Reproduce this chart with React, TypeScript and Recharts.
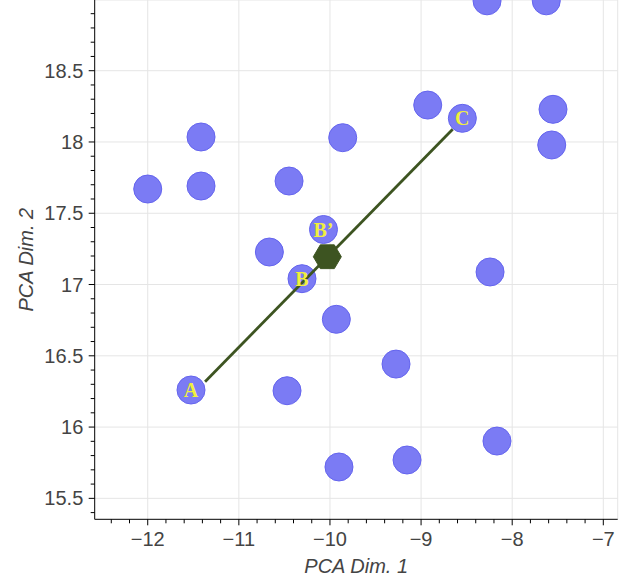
import React from 'react';
import {
  ScatterChart,
  Scatter,
  XAxis,
  YAxis,
  ReferenceLine,
  LabelList,
  Label,
} from 'recharts';

// ---- data ----
const POINT_X = [
  -12.0, -11.415, -11.415, -11.525, -10.665, -10.449, -10.471, -10.307, -10.071,
  -9.86, -9.93, -9.901, -9.275, -9.154, -8.927, -8.547, -8.276, -7.626, -8.243,
  -7.552, -7.566, -8.167,
];
const POINT_Y = [
  17.67, 18.035, 17.691, 16.26, 17.228, 17.726, 16.255, 17.041, 17.386,
  18.03, 16.756, 15.72, 16.442, 15.769, 18.259, 18.166, 18.99, 18.99, 17.088,
  18.229, 17.979, 15.902,
];
const POINT_LABEL = [
  '', '', '', 'A', '', '', '', 'B', 'B\u2019',
  '', '', '', '', '', '', 'C', '', '', '',
  '', '', '',
];
const SEGMENT_X = [-11.371, -8.653];
const SEGMENT_Y = [16.318, 18.089];
const CENTROID_X = [-10.029];
const CENTROID_Y = [17.195];

const X_DOMAIN = [-12.582, -6.842];
const Y_DOMAIN = [15.353, 18.996];
const X_MAJOR_TICKS = [-12, -11, -10, -9, -8, -7];
const Y_MAJOR_TICKS = [15.5, 16, 16.5, 17, 17.5, 18, 18.5];
const X_MINOR_STEP = 0.2;
const Y_MINOR_STEP = 0.1;
const X_TITLE = 'PCA Dim. 1';
const Y_TITLE = 'PCA Dim. 2';

// ---- derived tables ----
const points = POINT_X.map((x, i) => ({ x, y: POINT_Y[i], label: POINT_LABEL[i] }));
const labeled = points.filter((p) => p.label !== '');
const segment = SEGMENT_X.map((x, i) => ({ x, y: SEGMENT_Y[i] }));
const centroid = CENTROID_X.map((x, i) => ({ x, y: CENTROID_Y[i] }));

function stepTicks(domain: number[], step: number): number[] {
  const out: number[] = [];
  const a = Math.ceil(domain[0] / step - 1e-9);
  const b = Math.floor(domain[1] / step + 1e-9);
  for (let k = a; k <= b; k++) out.push(Math.round(k * step * 1000) / 1000);
  return out;
}
const X_TICKS = stepTicks(X_DOMAIN, X_MINOR_STEP);
const Y_TICKS = stepTicks(Y_DOMAIN, Y_MINOR_STEP);

const isMajor = (v: number, majors: number[]) => majors.some((m) => Math.abs(m - v) < 1e-6);
const fmt = (v: number) => (v < 0 ? '\u2212' + String(Math.abs(v)) : String(v));

const TICK_FONT = '"Liberation Sans", Arial, Helvetica, sans-serif';
const TEXT_COLOR = '#444444';
const OLIVE = '#3d5421';

const XTick = (props: any) => {
  const { x, y, payload } = props;
  const v = payload.value as number;
  const major = isMajor(v, X_MAJOR_TICKS);
  return (
    <g>
      <line x1={x} x2={x} y1={y} y2={y + (major ? 6 : 4)} stroke="#000" strokeWidth={1} />
      {major && (
        <text x={x} y={y + 26.3} textAnchor="middle" fill={TEXT_COLOR} fontSize={20} fontFamily={TICK_FONT}>
          {fmt(v)}
        </text>
      )}
    </g>
  );
};

const YTick = (props: any) => {
  const { x, y, payload } = props;
  const v = payload.value as number;
  const major = isMajor(v, Y_MAJOR_TICKS);
  return (
    <g>
      <line x1={x} x2={x - (major ? 6 : 4)} y1={y} y2={y} stroke="#000" strokeWidth={1} />
      {major && (
        <text x={x - 11.4} y={y + 7} textAnchor="end" fill={TEXT_COLOR} fontSize={20} fontFamily={TICK_FONT}>
          {fmt(v)}
        </text>
      )}
    </g>
  );
};

const CircleShape = (props: any) => {
  const { cx, cy } = props;
  if (cx == null || cy == null) return <g />;
  return <circle cx={cx} cy={cy} r={14} fill="#7b7bf4" stroke="#6464ee" strokeWidth={1} />;
};

const HexShape = (props: any) => {
  const { cx, cy } = props;
  if (cx == null || cy == null) return <g />;
  const r = 14;
  const pts: string[] = [];
  for (let k = 0; k < 6; k++) {
    const a = (Math.PI / 3) * k;
    pts.push(`${cx + r * Math.cos(a)},${cy + r * Math.sin(a) * 0.98}`);
  }
  return <polygon points={pts.join(' ')} fill={OLIVE} stroke={OLIVE} strokeWidth={1} />;
};

const NoShape = () => <g />;

const XTitle = (props: any) => {
  const vb = props.viewBox || {};
  return (
    <text
      x={vb.x + vb.width / 2}
      y={573.3}
      textAnchor="middle"
      fill={TEXT_COLOR}
      fontSize={20}
      fontStyle="italic"
      fontFamily={TICK_FONT}
    >
      {X_TITLE}
    </text>
  );
};

const YTitle = (props: any) => {
  const vb = props.viewBox || {};
  const cy = vb.y + vb.height / 2;
  return (
    <text
      x={33.3}
      y={cy}
      transform={`rotate(-90 33.3 ${cy})`}
      textAnchor="middle"
      fill={TEXT_COLOR}
      fontSize={20}
      fontStyle="italic"
      fontFamily={TICK_FONT}
    >
      {Y_TITLE}
    </text>
  );
};

export default function App() {
  return (
    <div style={{ position: 'absolute', left: 0, top: 0, width: 633, height: 580, background: '#fff' }}>
      <ScatterChart
        width={633}
        height={580}
        margin={{ top: 0, right: 15.3, bottom: 0.7, left: 0 }}
      >
        <XAxis
          type="number"
          dataKey="x"
          domain={X_DOMAIN}
          allowDataOverflow
          ticks={X_TICKS}
          interval={0}
          tick={<XTick />}
          tickLine={false}
          tickSize={0}
          tickMargin={0}
          height={60}
          axisLine={{ stroke: '#000', strokeWidth: 1 }}
        >
          <Label content={<XTitle />} />
        </XAxis>
        <YAxis
          type="number"
          dataKey="y"
          domain={Y_DOMAIN}
          allowDataOverflow
          ticks={Y_TICKS}
          interval={0}
          tick={<YTick />}
          tickLine={false}
          tickSize={0}
          tickMargin={0}
          width={94.7}
          axisLine={{ stroke: '#000', strokeWidth: 1 }}
        >
          <Label content={<YTitle />} />
        </YAxis>
        {X_MAJOR_TICKS.map((v) => (
          <ReferenceLine key={'gx' + v} x={v} stroke="#e5e5e5" strokeWidth={1} />
        ))}
        {Y_MAJOR_TICKS.map((v) => (
          <ReferenceLine key={'gy' + v} y={v} stroke="#e5e5e5" strokeWidth={1} />
        ))}
        <ReferenceLine x={X_DOMAIN[1]} stroke="#e5e5e5" strokeWidth={1} />
        <ReferenceLine y={Y_DOMAIN[1]} stroke="#e5e5e5" strokeWidth={1} />
        <Scatter data={points} shape={<CircleShape />} isAnimationActive={false} />
        <Scatter
          data={segment}
          shape={<NoShape />}
          line={{ stroke: OLIVE, strokeWidth: 2.8 }}
          isAnimationActive={false}
        />
        <Scatter data={centroid} shape={<HexShape />} isAnimationActive={false} />
        <Scatter data={labeled} shape={<NoShape />} isAnimationActive={false}>
          <LabelList
            dataKey="label"
            position="center"
            fill="#f0ef3c"
            fontSize={20}
            fontWeight="bold"
            fontFamily='"Liberation Serif", "Times New Roman", serif'
          />
        </Scatter>
      </ScatterChart>
    </div>
  );
}
